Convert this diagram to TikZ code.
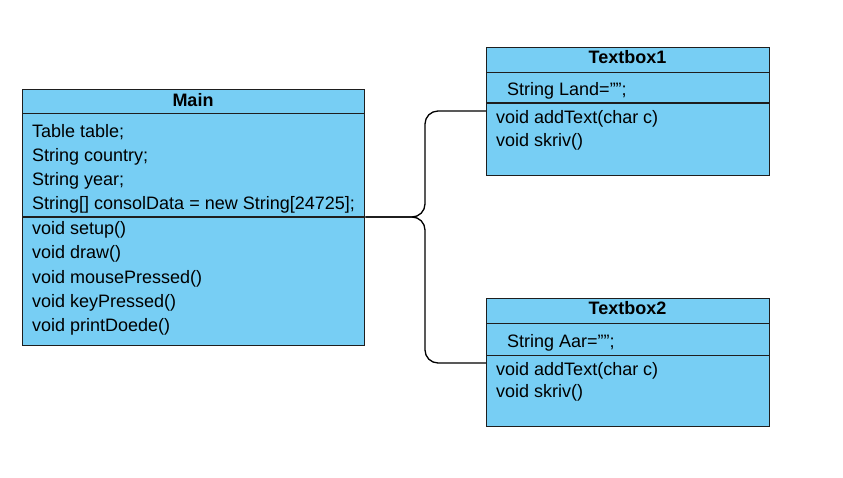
\documentclass[tikz,border=0pt]{standalone}
\usepackage{fontspec}
\setmainfont{Liberation Sans}
\definecolor{boxfill}{RGB}{119,206,244}
\definecolor{boxline}{RGB}{30,30,30}
\begin{document}
\begin{tikzpicture}[x=1pt,y=-1pt,
  umlbox/.style={draw=boxline,fill=boxfill,line width=1.3pt,anchor=north west,inner sep=0pt},
  sepline/.style={draw=boxline,line width=1.3pt},
  txt/.style={anchor=base west,inner sep=0pt,font=\fontsize{18}{21}\selectfont},
  ttl/.style={anchor=base,inner sep=0pt,font=\bfseries\fontsize{18}{21}\selectfont},
  conn/.style={draw=black,line width=1.3pt,rounded corners=13pt}]
\useasboundingbox (0,0) rectangle (843,477);
% Main
\node[umlbox,minimum width=342pt,minimum height=256pt] (main) at (22,89) {};
\draw[sepline] (22,113.5) -- (364,113.5);
\draw[sepline] (22,217) -- (364,217);
\node[ttl] (mainT) at (193,106.5) {Main};
\node[txt] (m1) at (32,137.5) {Table table;};
\node[txt] (m2) at (32,161.5) {String country;};
\node[txt] (m3) at (32,185.5) {String year;};
\node[txt] (m4) at (32,209.5) {String[] consolData = new String[24725];};
\node[txt] (m5) at (32,234.5) {void setup()};
\node[txt] (m6) at (32,258.5) {void draw()};
\node[txt] (m7) at (32,283) {void mousePressed()};
\node[txt] (m8) at (32,307) {void keyPressed()};
\node[txt] (m9) at (32,331) {void printDoede()};
% Textbox1
\node[umlbox,minimum width=283pt,minimum height=128pt] (tb1) at (486,46.5) {};
\draw[sepline] (486,72.5) -- (769,72.5);
\draw[sepline] (486,103) -- (769,103);
\node[ttl] (tb1T) at (627.5,63.5) {Textbox1};
\node[txt] (a1) at (507,95.5) {String Land="{}";};
\node[txt] (a2) at (496,123) {void addText(char c)};
\node[txt] (a3) at (496,146.5) {void skriv()};
% Textbox2
\node[umlbox,minimum width=283pt,minimum height=128pt] (tb2) at (486,298) {};
\draw[sepline] (486,323.5) -- (769,323.5);
\draw[sepline] (486,355.5) -- (769,355.5);
\node[ttl] (tb2T) at (627.5,314) {Textbox2};
\node[txt] (b1) at (507,347.5) {String Aar="{}";};
\node[txt] (b2) at (496,375) {void addText(char c)};
\node[txt] (b3) at (496,397.5) {void skriv()};
% connectors
\coordinate (mj) at (main.east |- 0,217);
\coordinate (t1j) at (tb1.west |- 0,111);
\coordinate (t2j) at (tb2.west |- 0,363);
\draw[conn] (mj) -- (425,217) |- (t1j);
\draw[conn] (mj) -- (425,217) |- (t2j);
\end{tikzpicture}
\end{document}
